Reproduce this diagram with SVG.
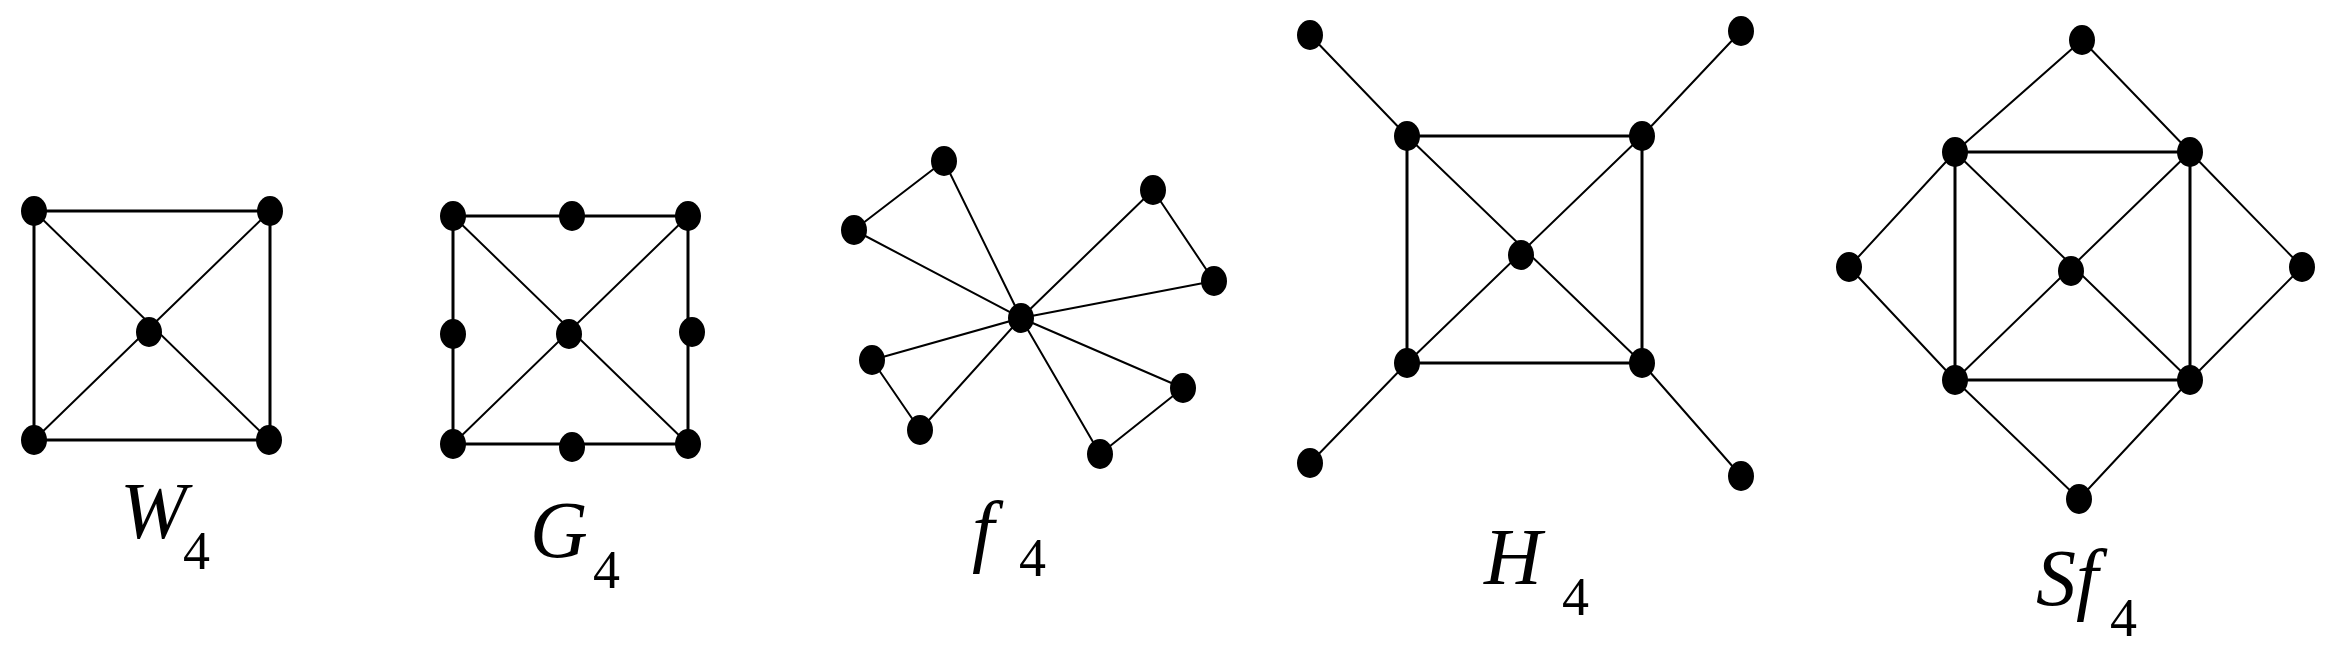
<svg xmlns="http://www.w3.org/2000/svg" width="2341" height="654" viewBox="0 0 2341 654">
<style>
.e{stroke:#000;stroke-width:3;fill:none}
.d{stroke:#000;stroke-width:2;fill:none}
.n{fill:#000}
.l{font-family:"Liberation Serif",serif;font-style:italic;font-size:80px;fill:#000}
.s{font-family:"Liberation Serif",serif;font-size:54px;fill:#000}
</style>
<defs><ellipse id="v" rx="13" ry="15"/></defs>
<rect width="2341" height="654" fill="#fff"/>
<g id="connectors">
<path class="e" d="M34 211H270V440H34Z"/>
<path class="d" d="M34 211L269 440M270 211L34 440"/>
<path class="e" d="M453 216H688V444H453Z"/>
<path class="d" d="M453 216L688 444M688 216L453 444"/>
<path class="d" d="M1021 318L944 161M1021 318L854 230M1021 318L872 360M1021 318L920 430M1021 318L1153 190M1021 318L1214 281M1021 318L1183 388M1021 318L1100 454M944 161L854 230M872 360L920 430M1153 190L1214 281M1183 388L1100 454"/>
<path class="e" d="M1407 136H1642V363H1407Z"/>
<path class="d" d="M1407 136L1642 363M1642 136L1407 363M1407 136L1310 35M1642 136L1741 31M1407 363L1310 463M1642 363L1741 476"/>
<path class="e" d="M1955 152H2190V380H1955Z"/>
<path class="d" d="M1955 152L2190 380M2190 152L1955 380M2082 40L1955 152M2082 40L2190 152M1849 267L1955 152M1849 267L1955 380M2302 267L2190 152M2302 267L2190 380M2079 499L1955 380M2079 499L2190 380"/>
</g>
<g id="W4" class="n">
<use href="#v" x="34" y="211"/><use href="#v" x="270" y="211"/><use href="#v" x="34" y="440"/><use href="#v" x="269" y="440"/><use href="#v" x="149" y="332"/>
<text class="l" x="120" y="538">W</text><text class="s" x="183" y="569">4</text>
</g>
<g id="G4" class="n">
<use href="#v" x="453" y="216"/><use href="#v" x="572" y="216"/><use href="#v" x="688" y="216"/><use href="#v" x="453" y="334"/><use href="#v" x="569" y="334"/><use href="#v" x="692" y="332"/><use href="#v" x="453" y="444"/><use href="#v" x="572" y="447"/><use href="#v" x="688" y="444"/>
<text class="l" x="530" y="557">G</text><text class="s" x="593" y="588">4</text>
</g>
<g id="f4" class="n">
<use href="#v" x="1021" y="318"/><use href="#v" x="944" y="161"/><use href="#v" x="854" y="230"/><use href="#v" x="872" y="360"/><use href="#v" x="920" y="430"/><use href="#v" x="1153" y="190"/><use href="#v" x="1214" y="281"/><use href="#v" x="1183" y="388"/><use href="#v" x="1100" y="454"/>
<text class="l" x="972" y="557">f</text><text class="s" x="1019" y="576">4</text>
</g>
<g id="H4" class="n">
<use href="#v" x="1310" y="35"/><use href="#v" x="1741" y="31"/><use href="#v" x="1407" y="136"/><use href="#v" x="1642" y="136"/><use href="#v" x="1521" y="255"/><use href="#v" x="1407" y="363"/><use href="#v" x="1642" y="363"/><use href="#v" x="1310" y="463"/><use href="#v" x="1741" y="476"/>
<text class="l" x="1484" y="584">H</text><text class="s" x="1562" y="615">4</text>
</g>
<g id="Sf4" class="n">
<use href="#v" x="2082" y="40"/><use href="#v" x="1955" y="152"/><use href="#v" x="2190" y="152"/><use href="#v" x="1849" y="267"/><use href="#v" x="2071" y="271"/><use href="#v" x="2302" y="267"/><use href="#v" x="1955" y="380"/><use href="#v" x="2190" y="380"/><use href="#v" x="2079" y="499"/>
<text class="l" x="2036" y="605">Sf</text><text class="s" x="2110" y="636">4</text>
</g>
</svg>
